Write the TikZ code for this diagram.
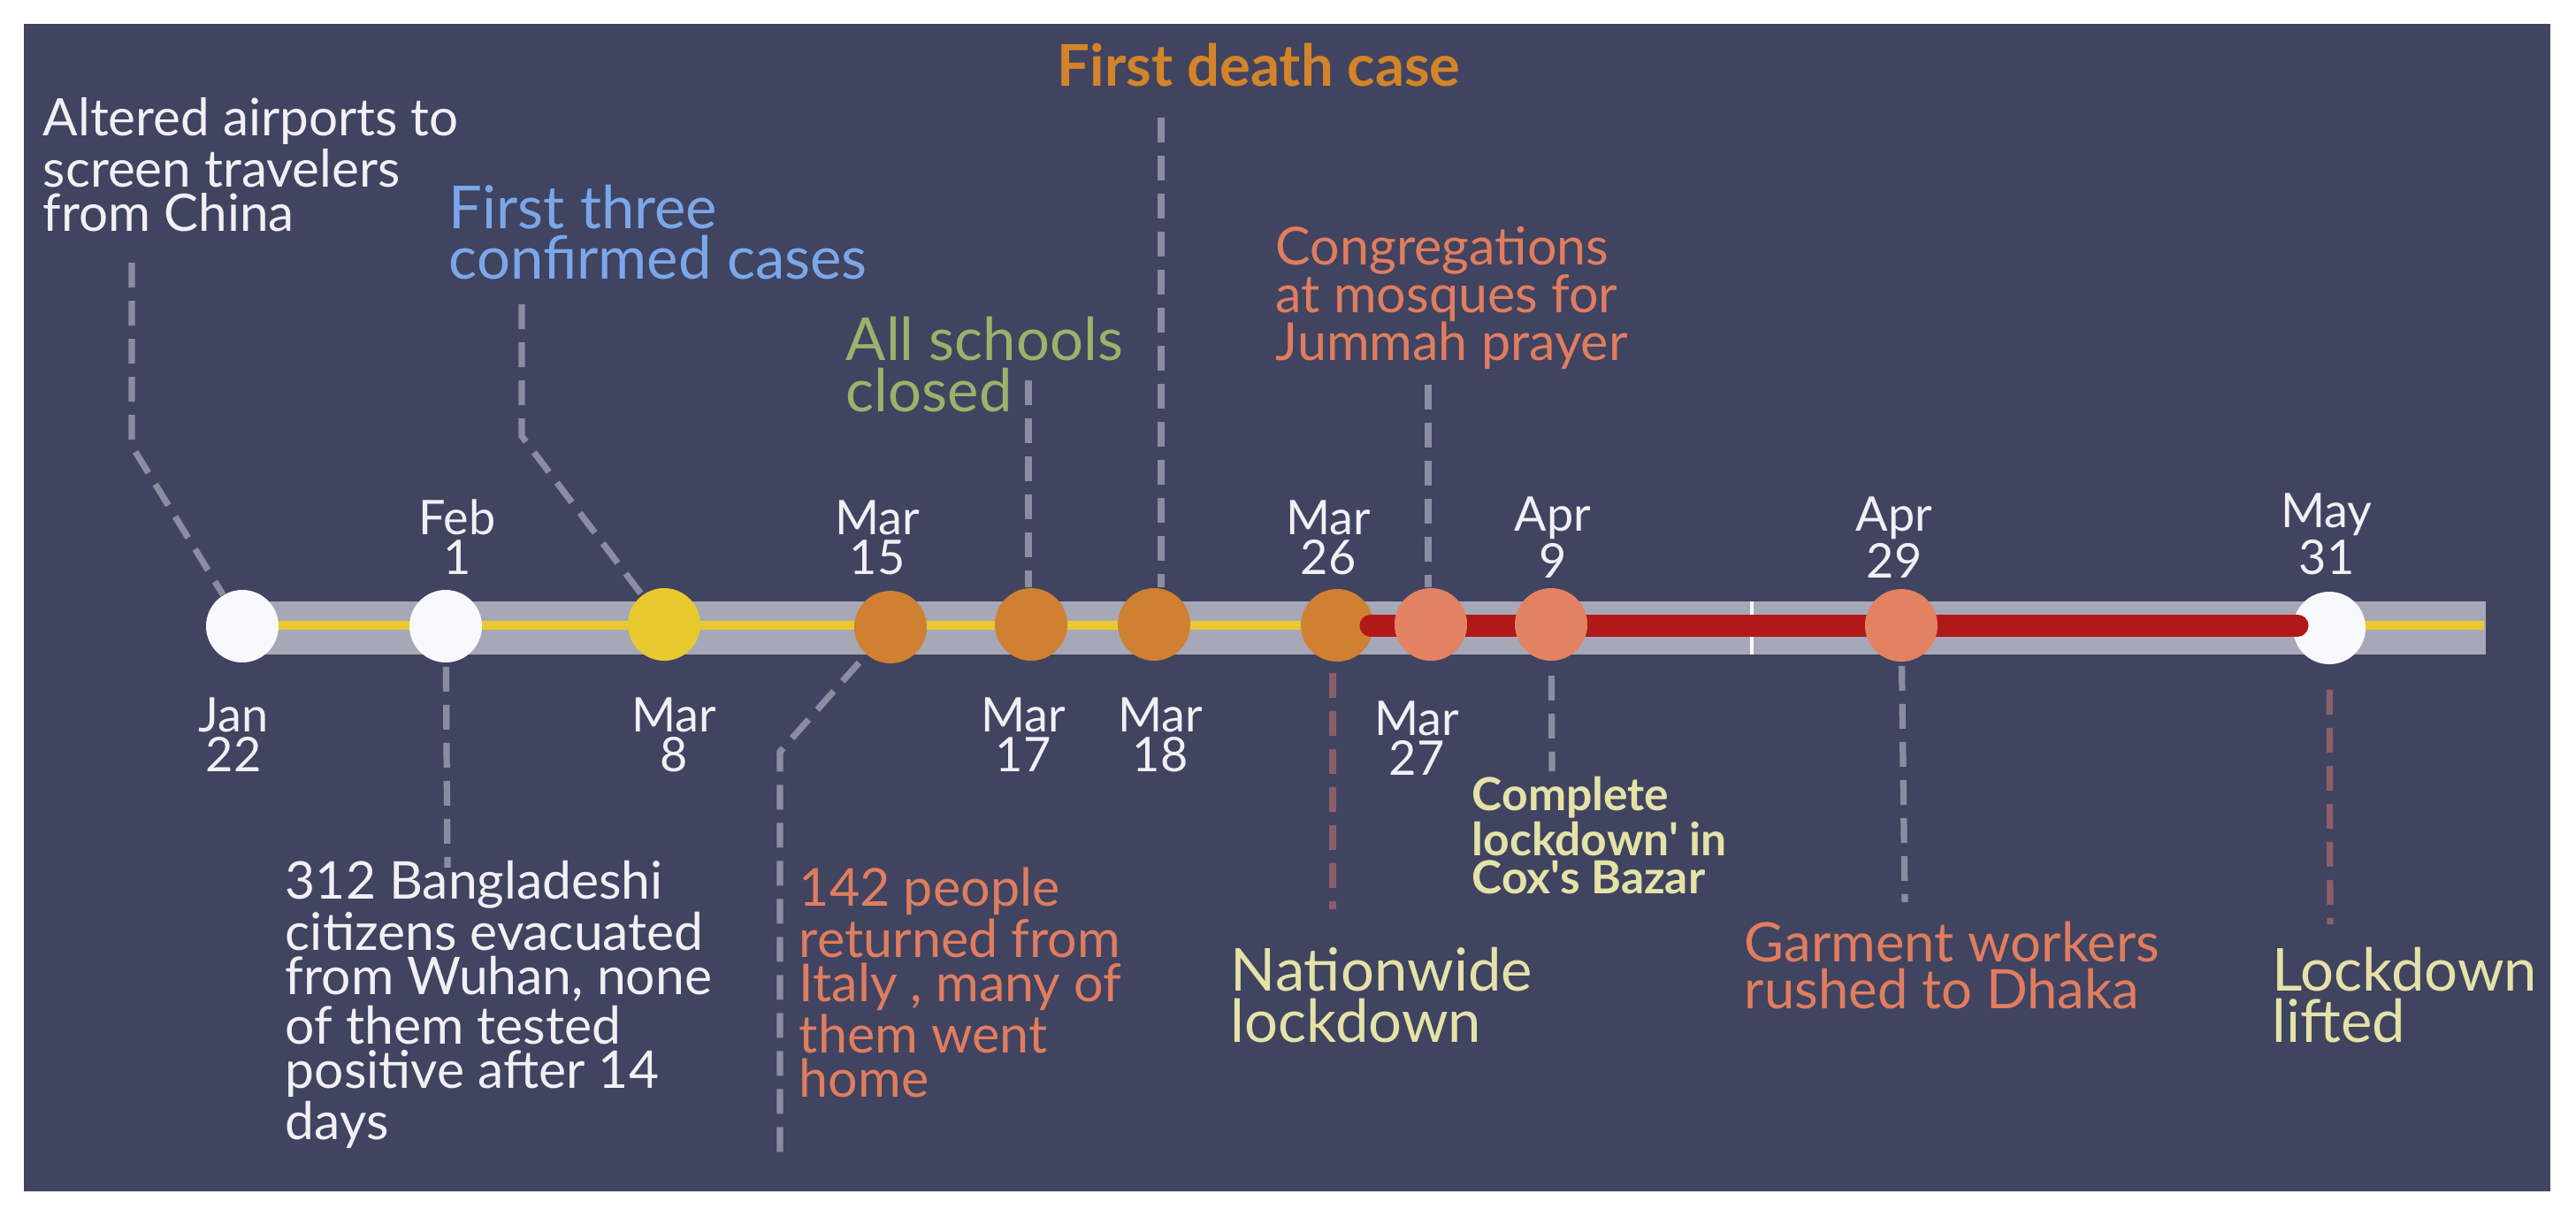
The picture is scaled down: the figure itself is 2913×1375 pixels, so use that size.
\documentclass[tikz,border=0pt]{standalone}
\usepackage{fontspec}
\setmainfont{Lato}
\newfontfamily\latoplain{Lato}
\usetikzlibrary{calc}
\definecolor{bg}{HTML}{404460}
\definecolor{band}{HTML}{A6A8B8}
\definecolor{cwhite}{HTML}{F8F9FC}
\definecolor{cyellow}{HTML}{E8C930}
\definecolor{corange}{HTML}{CF8030}
\definecolor{csalmon}{HTML}{E38262}
\definecolor{cred}{HTML}{B11818}
\definecolor{tblue}{HTML}{7BA7EA}
\definecolor{tgreen}{HTML}{9BB26A}
\definecolor{torange}{HTML}{D38428}
\definecolor{tpale}{HTML}{E5E2A8}
\definecolor{tsalmon}{HTML}{E07D5E}
\definecolor{twhite}{HTML}{F0F0F5}
\definecolor{dgray}{HTML}{8A8DA2}
\definecolor{dbrown}{HTML}{8B5F6A}
\tikzset{
  dot/.style={circle,fill=#1,minimum size=20.5pt,inner sep=0pt},
  datelbl/.style={text=twhite,align=center,anchor=base,inner sep=0pt,font={\fontsize{13.5}{11.25}\selectfont}},
  evlbl/.style={align=left,anchor=base west,inner sep=0pt},
  conn/.style={draw=#1,line width=1.8pt,dash pattern=on 7pt off 3.75pt},
}
\begin{document}
\begin{tikzpicture}[x=0.25pt,y=-0.25pt]
\useasboundingbox (0,0) rectangle (2913,1375);
\fill[white] (0,0) rectangle (2913,1375);
\fill[bg] (27,27) rectangle (2884,1347);

% timeline band
\coordinate (bandL) at (274,710);
\coordinate (bandR) at (2811,710);
\draw[band,line width=15pt] (bandL) -- (bandR);
\coordinate (tickT) at (1981,680);
\coordinate (tickB) at (1981,740);
\draw[cwhite,line width=0.9pt] (tickT) -- (tickB);
\coordinate (yelL) at (274,707);
\coordinate (yelR) at (2809,707);
\draw[cyellow,line width=2.5pt] (yelL) -- (yelR);

% circles
\node[dot=cwhite]  (c1)  at (274,708) {};
\node[dot=cwhite]  (c2)  at (504,708) {};
\node[dot=cyellow] (c3)  at (751,706) {};
\node[dot=corange] (c4)  at (1007,709) {};
\node[dot=corange] (c5)  at (1166,706) {};
\node[dot=corange] (c6)  at (1305,706) {};
\node[dot=corange] (c7)  at (1512,707) {};
\node[dot=cwhite]  (c11) at (2634,710) {};

\coordinate (redS) at (1550,707);
\coordinate (redE) at (2598,707);
\draw[cred,line width=6.25pt,line cap=round] (redS) -- (redE);

\node[dot=csalmon] (c8)  at (1618,706) {};
\node[dot=csalmon] (c9)  at (1754,706) {};
\node[dot=csalmon] (c10) at (2150,707) {};

% connectors
\coordinate (k1) at (149,297);
\coordinate (b1) at (149,504);
\draw[conn=dgray] (k1) -- (b1) -- (c1);
\coordinate (k2) at (506,981);
\draw[conn=dgray,shorten <=1pt] (c2) -- (k2);
\coordinate (k3) at (590,344);
\coordinate (b3) at (590,493);
\draw[conn=dgray] (k3) -- (b3) -- (c3);
\coordinate (b4) at (882,850);
\coordinate (k4) at (882,1304);
\draw[conn=dgray,shorten <=3pt] (c4) -- (b4) -- (k4);
\coordinate (k5) at (1163,430);
\draw[conn=dgray] (k5) -- (k5 |- c5.north);
\coordinate (k6) at (1313,133);
\draw[conn=dgray] (k6) -- (k6 |- c6.north);
\coordinate (k7) at (1507,1028);
\draw[conn=dbrown,shorten <=3pt] (k7 |- c7.south) -- (k7);
\coordinate (k8) at (1615,435);
\draw[conn=dgray] (k8) -- (k8 |- c8.north);
\coordinate (k9) at (1755,872);
\draw[conn=dgray,shorten <=4pt] (c9) -- (k9);
\coordinate (k10) at (2154,1020);
\draw[conn=dgray,shorten <=1pt] (c10) -- (k10);
\coordinate (k11) at (2635,1045);
\draw[conn=dbrown,shorten <=7pt] (c11) -- (k11);

% dates (anchored at the baseline of the last line)
\node[datelbl] (d1)  at (264,872) {Jan\\22};
\node[datelbl] (d2)  at (517,649) {Feb\\1};
\node[datelbl] (d3)  at (762,872) {Mar\\8};
\node[datelbl] (d4)  at (992,649) {Mar\\15};
\node[datelbl] (d5)  at (1157,872) {Mar\\17};
\node[datelbl] (d6)  at (1312,872) {Mar\\18};
\node[datelbl] (d7)  at (1502,649) {Mar\\26};
\node[datelbl] (d8)  at (1602,876) {Mar\\27};
\node[datelbl] (d9)  at (1756,653) {Apr\\9};
\node[datelbl] (d10) at (2142,653) {Apr\\29};
\node[datelbl] (d11) at (2631,649) {May\\31};

% event labels (anchored at the baseline of the last line)
\node[evlbl,text=twhite,font={\fontsize{14.6}{12.5}\selectfont}] (L1) at (48,261)
  {Altered airports to\\screen travelers\\from China};
\node[evlbl,text=tblue,font={\fontsize{16.75}{14.25}\selectfont}] (L2) at (507,315)
  {First three\\confirmed cases};
\node[evlbl,text=tgreen,font={\fontsize{16.75}{14.5}\selectfont}] (L3) at (956,465)
  {All schools\\closed};
\node[evlbl,text=torange,font={\fontsize{16.3}{16}\selectfont\bfseries}] (L4) at (1195,97)
  {First death case};
\node[evlbl,text=tsalmon,font={\fontsize{14.8}{13.5}\selectfont}] (L5) at (1442,407)
  {Congregations\\at mosques for\\Jummah prayer};
\node[evlbl,text=twhite,font={\fontsize{14.7}{12.6}\selectfont}] (L6) at (322,1288)
  {312 Bangladeshi\\citizens evacuated\\from Wuhan, none\\of them tested\\positive after 14\\days};
\node[evlbl,text=tsalmon,font={\fontsize{14.8}{12.5}\selectfont}] (L7) at (903,1240)
  {142 people\\returned from\\Italy , many of\\them went\\home};
\node[evlbl,text=tpale,font={\fontsize{16.75}{14.5}\selectfont}] (L8) at (1391,1178)
  {Nationwide\\lockdown};
\node[evlbl,text=tpale,font={\latoplain\fontsize{12.9}{10.75}\selectfont\bfseries}] (L9) at (1664,1010)
  {Complete\\lockdown' in\\Cox's Bazar};
\node[evlbl,text=tsalmon,font={\fontsize{15.4}{13.25}\selectfont}] (L10) at (1972,1140)
  {Garment workers\\rushed to Dhaka};
\node[evlbl,text=tpale,font={\fontsize{16.75}{14.5}\selectfont}] (L11) at (2569,1178)
  {Lockdown\\lifted};
\end{tikzpicture}
\end{document}
